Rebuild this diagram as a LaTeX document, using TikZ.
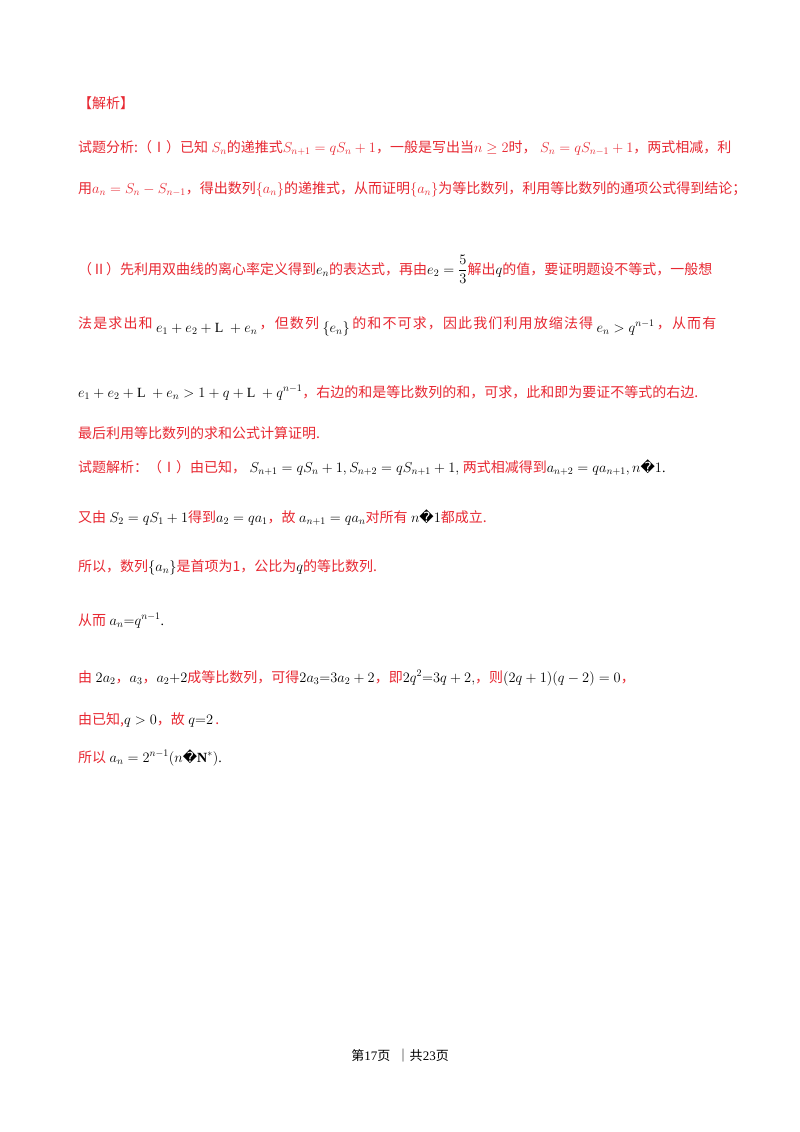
\documentclass[tikz,border=0pt]{standalone}
\usepackage{fontspec}
\setmainfont{Liberation Serif}
\newfontfamily\cjk{Noto Sans CJK SC}
\newfontfamily\cjksp[LetterSpace=8]{Noto Sans CJK SC}
\newfontfamily\dvs{DejaVu Sans}
\definecolor{rd}{RGB}{232,40,50}
\newcommand{\R}[1]{{\cjk\color{rd}#1}}
\newcommand{\Rs}[1]{{\cjksp\color{rd}#1}}
\newcommand{\Q}{{\dvs\char"FFFD}}
\begin{document}
\begin{tikzpicture}[x=1pt,y=-1pt,
  ln/.style={anchor=base west,inner sep=0pt,font=\fontsize{14}{16}\selectfont}]
\useasboundingbox[fill=white] (0,0) rectangle (800,1132);
\node[ln] (t0) at (78,108) {\R{【解析】}};
\node[ln] (t1) at (78,152) {\color{rd}\R{试题分析:（Ⅰ）已知} $S_n$\R{的递推式}$S_{n+1}=qS_n+1$\R{，一般是写出当}$n\geq 2$\R{时，} $S_n=qS_{n-1}+1$\R{，两式相减，利}};
\node[ln] (t2) at (78,193) {\color{rd}\R{用}$a_n=S_n-S_{n-1}$\R{，得出数列}$\{a_n\}$\R{的递推式，从而证明}$\{a_n\}$\R{为等比数列，利用等比数列的通项公式得到结论；}};
\node[ln] (t3) at (78,274) {\R{（Ⅱ）先利用双曲线的离心率定义得到}$e_n$\R{的表达式，再由}$e_2=\displaystyle\frac{5}{3}$\R{解出}$q$\R{的值，要证明题设不等式，一般想}};
\node[ln] (t4a) at (78,328) {\Rs{法是求出和}};
\node[ln] (t4b) at ([xshift=3pt,yshift=-4pt]t4a.base east) {$e_1+e_2+\mathrm{L}\ +e_n$};
\node[ln] (t4c) at ([xshift=2pt,yshift=4pt]t4b.base east) {\Rs{，但数列}};
\node[ln] (t4d) at ([xshift=3pt,yshift=-4pt]t4c.base east) {$\{e_n\}$};
\node[ln] (t4e) at ([xshift=2pt,yshift=4pt]t4d.base east) {\Rs{的和不可求，因此我们利用放缩法得}};
\node[ln] (t4f) at ([xshift=3pt,yshift=-4pt]t4e.base east) {$e_n>q^{n-1}$};
\node[ln] (t4g) at ([xshift=2pt,yshift=4pt]t4f.base east) {\Rs{，从而有}};
\node[ln] (t5) at (78,397) {$e_1+e_2+\mathrm{L}\ +e_n>1+q+\mathrm{L}\ +q^{n-1}$\R{，右边的和是等比数列的和，可求，此和即为要证不等式的右边.}};
\node[ln] (t6) at (78,438) {\R{最后利用等比数列的求和公式计算证明.}};
\node[ln] (t7) at (78,472) {\R{试题解析：（Ⅰ）由已知，}\ $S_{n+1}=qS_n+1,S_{n+2}=qS_{n+1}+1,$\ \R{两式相减得到}$a_{n+2}=qa_{n+1},n$\Q$1$.};
\node[ln] (t8) at (78,522) {\R{又由}\ $S_2=qS_1+1$\R{得到}$a_2=qa_1$\R{，故}\ $a_{n+1}=qa_n$\R{对所有}\ $n$\Q$1$\R{都成立.}};
\node[ln] (t9) at (78,571) {\R{所以，数列}$\{a_n\}$\R{是首项为1，公比为}$q$\R{的等比数列.}};
\node[ln] (t10) at (78,625) {\R{从而}\ $a_n{=}q^{n-1}$.};
\node[ln] (t11) at (78,682) {\R{由}\ $2a_2$\R{，}$a_3$\R{，}$a_2{+}2$\R{成等比数列，可得}$2a_3{=}3a_2+2$\R{，即}$2q^2{=}3q+2,$\R{，则}$(2q+1)(q-2)=0$\R{，}};
\node[ln] (t12) at (78,724) {\R{由已知,}$q>0$\R{，故}\ $q{=}2$\,\R{.}};
\node[ln] (t13) at (78,762) {\R{所以}\ $a_n=2^{n-1}(n$\Q$\mathbf{N}^*)$.};
\node[anchor=base,inner sep=0pt,font=\fontsize{13}{15}\selectfont] (ft) at (400,1060) {{\cjk 第}17{\cjk 页} \ {\cjk ｜共}23{\cjk 页}};
\end{tikzpicture}
\end{document}
